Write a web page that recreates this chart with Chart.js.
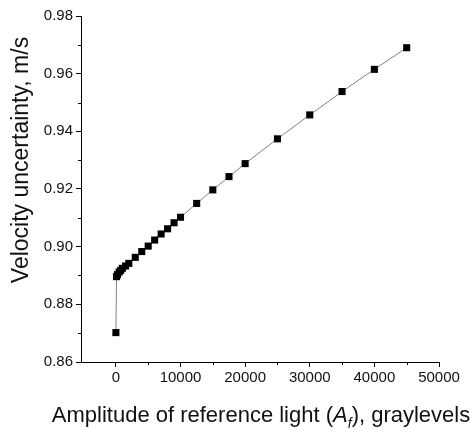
<!DOCTYPE html>
<html>
<head>
<meta charset="utf-8">
<script src="https://cdn.jsdelivr.net/npm/chart.js@4/dist/chart.umd.min.js"></script>
<style>
  html, body { margin: 0; padding: 0; background: #fff; }
  #wrap { position: relative; width: 474px; height: 436px; }
  #yTitle, #xTitle {
    position: absolute; font-family: "Liberation Sans", Arial, sans-serif;
    color: #111; white-space: nowrap; text-align: center;
  }
  #yTitle { font-size: 23px; width: 320px; left: -140px; top: 146px; line-height: 28px; transform: rotate(-90deg); }
  #xTitle { font-size: 22px; width: 474px; left: 24px; top: 402px; line-height: 26px; }
  #xTitle sub { font-size: 14px; vertical-align: -6px; line-height: 0; }
</style>
</head>
<body>
<div id="wrap">
  <canvas id="chart" width="474" height="436"></canvas>
  <div id="yTitle">Velocity uncertainty, m/s</div>
  <div id="xTitle">Amplitude of reference light (<i>A</i><sub><i>f</i></sub>), graylevels</div>
</div>
<script>
// reference light amplitude (graylevels)
var amplitude = [0, 100, 250, 500, 750, 1000, 1500, 2000, 3000, 4000, 5000, 6000, 7000, 8000, 9000,
    10000, 12500, 15000, 17500, 20000, 25000, 30000, 35000, 40000, 45000];
// velocity uncertainty (m/s)
var uncertainty = [0.8702, 0.8896, 0.8903, 0.8912, 0.8918, 0.8925, 0.8933, 0.8942, 0.8963, 0.8983, 0.9002,
    0.9023, 0.9044, 0.9062, 0.9083, 0.9102, 0.9150, 0.9197, 0.9243, 0.9288, 0.9374, 0.9457, 0.9538, 0.9615, 0.9690];

var xMajorTicks = [0, 10000, 20000, 30000, 40000, 50000];
var xMinorTicks = [5000, 15000, 25000, 35000, 45000];
var yMajorTicks = [0.86, 0.88, 0.90, 0.92, 0.94, 0.96, 0.98];
var yMinorTicks = [0.87, 0.89, 0.91, 0.93, 0.95, 0.97];

var points = [];
for (var i = 0; i < amplitude.length; i++) {
    points.push({ x: amplitude[i], y: uncertainty[i] });
}

// short outward ticks between the labelled ones
var minorTicksPlugin = {
    id: 'minorTicks',
    afterDraw: function (chart) {
        var ctx = chart.ctx, xs = chart.scales.x, ys = chart.scales.y;
        ctx.save();
        ctx.strokeStyle = '#000';
        ctx.lineWidth = 1;
        ctx.beginPath();
        xMinorTicks.forEach(function (v) {
            var px = Math.round(xs.getPixelForValue(v)) + 0.5;
            ctx.moveTo(px, ys.bottom);
            ctx.lineTo(px, ys.bottom + 3);
        });
        yMinorTicks.forEach(function (v) {
            var py = Math.round(ys.getPixelForValue(v)) + 0.5;
            ctx.moveTo(xs.left, py);
            ctx.lineTo(xs.left - 3, py);
        });
        ctx.stroke();
        ctx.restore();
    }
};

var tickFont = { family: '"Liberation Sans", Arial, sans-serif', size: 15 };

new Chart(document.getElementById('chart'), {
    type: 'scatter',
    data: {
        datasets: [{
            data: points,
            showLine: true,
            borderColor: '#808080',
            borderWidth: 1,
            pointStyle: 'rect',
            pointRadius: 5,
            pointBackgroundColor: '#000',
            pointBorderColor: '#000',
            pointBorderWidth: 0
        }]
    },
    options: {
        responsive: false,
        animation: false,
        layout: { padding: { left: 0, right: 35, top: 16, bottom: 40 } },
        plugins: { legend: { display: false }, tooltip: { enabled: false } },
        scales: {
            x: {
                type: 'linear',
                min: -5400,
                max: 50000,
                afterBuildTicks: function (scale) {
                    scale.ticks = xMajorTicks.map(function (v) { return { value: v }; });
                },
                afterFit: function (scale) { scale.height = 34; },
                border: { display: true, color: '#000', width: 1 },
                grid: { drawOnChartArea: false, drawTicks: true, tickLength: 5, color: '#000' },
                ticks: { color: '#111', font: tickFont, padding: 2, maxRotation: 0, autoSkip: false,
                    callback: function (v) { return String(v); } }
            },
            y: {
                type: 'linear',
                min: 0.86,
                max: 0.98,
                afterBuildTicks: function (scale) {
                    scale.ticks = yMajorTicks.map(function (v) { return { value: v }; });
                },
                afterFit: function (scale) { scale.width = 81; },
                border: { display: true, color: '#000', width: 1 },
                grid: { drawOnChartArea: false, drawTicks: true, tickLength: 5, color: '#000' },
                ticks: { color: '#111', font: tickFont, padding: 3, autoSkip: false,
                    callback: function (v) { return Number(v).toFixed(2); } }
            }
        }
    },
    plugins: [minorTicksPlugin]
});
</script>
</body>
</html>
